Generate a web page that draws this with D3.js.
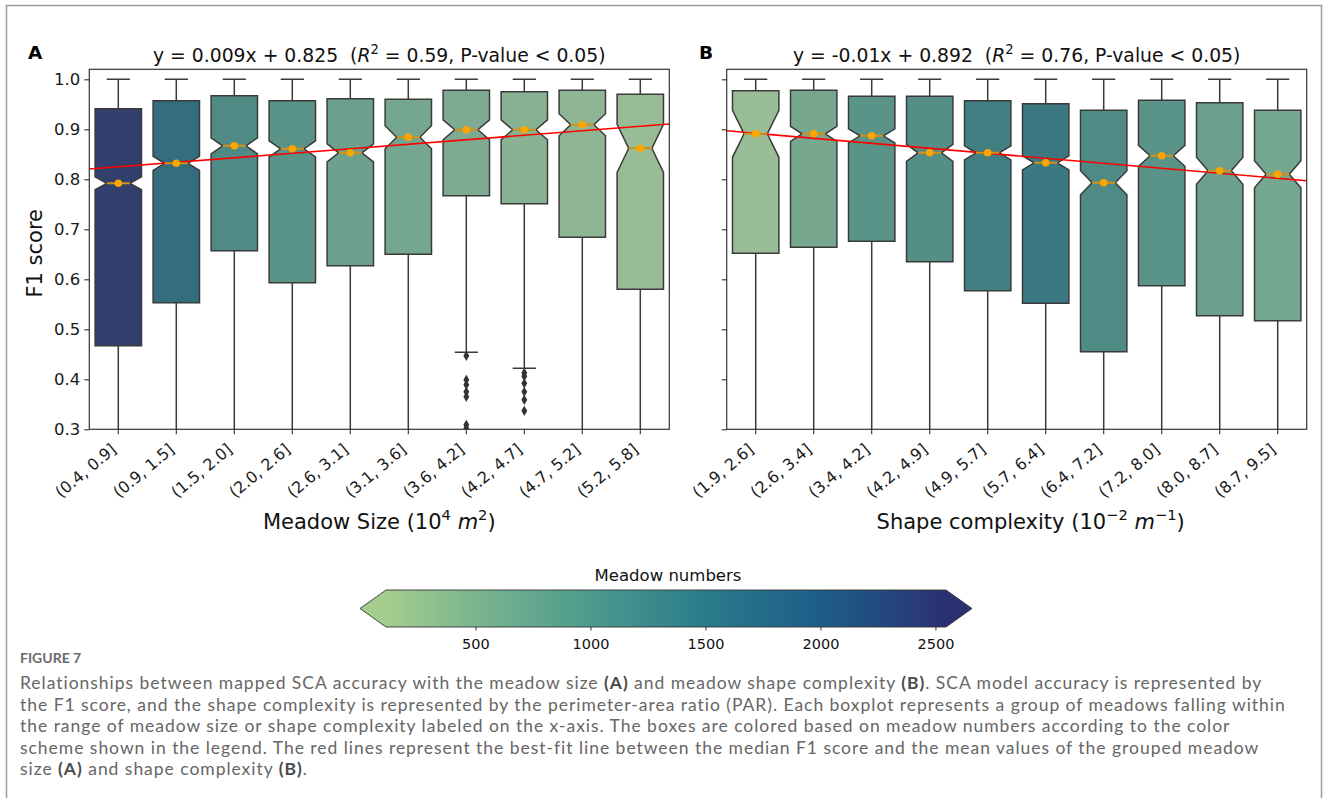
<!DOCTYPE html>
<html>
<head>
<meta charset="utf-8">
<script src="https://cdn.jsdelivr.net/npm/d3@7"></script>
<style>
body { margin: 0; background: #fff; }
svg text { font-family: "DejaVu Sans", sans-serif; white-space: pre; }
.caption text { font-family: Lato, "Open Sans", sans-serif; }
</style>
</head>
<body>
<div id="chart"></div>
<script>
// ---- data ----
const sizeBins = ["(0.4, 0.9]", "(0.9, 1.5]", "(1.5, 2.0]", "(2.0, 2.6]", "(2.6, 3.1]",
    "(3.1, 3.6]", "(3.6, 4.2]", "(4.2, 4.7]", "(4.7, 5.2]", "(5.2, 5.8]"]
const shapeBins = ["(1.9, 2.6]", "(2.6, 3.4]", "(3.4, 4.2]", "(4.2, 4.9]", "(4.9, 5.7]",
    "(5.7, 6.4]", "(6.4, 7.2]", "(7.2, 8.0]", "(8.0, 8.7]", "(8.7, 9.5]"]

// panel A : meadow size
const q1A = [0.467, 0.553, 0.657, 0.593, 0.627, 0.650, 0.767, 0.751, 0.684, 0.580]
const medA = [0.792, 0.832, 0.867, 0.861, 0.853, 0.884, 0.899, 0.899, 0.909, 0.862]
const q3A = [0.941, 0.957, 0.967, 0.957, 0.961, 0.960, 0.978, 0.975, 0.978, 0.970]
const notchA = [0.013, 0.014, 0.016, 0.016, 0.018, 0.023, 0.020, 0.020, 0.022, 0.048]
const whiskLoA = [0.2, 0.2, 0.2, 0.2, 0.2, 0.2, 0.454, 0.422, 0.2, 0.2]
const whiskHiA = [1.0, 1.0, 1.0, 1.0, 1.0, 1.0, 1.0, 1.0, 1.0, 1.0]
const countA = [2420, 1620, 1100, 960, 720, 640, 560, 430, 370, 280]
const fliersA = [[], [], [], [], [], [],
    [0.447, 0.399, 0.389, 0.375, 0.365, 0.309, 0.302],
    [0.413, 0.406, 0.392, 0.375, 0.359, 0.337], [], []]

// panel B : shape complexity
const q1B = [0.652, 0.664, 0.676, 0.635, 0.577, 0.552, 0.455, 0.587, 0.527, 0.517]
const medB = [0.891, 0.891, 0.887, 0.853, 0.853, 0.833, 0.793, 0.847, 0.817, 0.810]
const q3B = [0.977, 0.978, 0.966, 0.966, 0.957, 0.951, 0.938, 0.958, 0.953, 0.938]
const notchB = [0.047, 0.015, 0.014, 0.017, 0.014, 0.014, 0.024, 0.021, 0.027, 0.027]
const whiskLoB = [0.2, 0.2, 0.2, 0.2, 0.2, 0.2, 0.2, 0.2, 0.2, 0.2]
const whiskHiB = [1.0, 1.0, 1.0, 1.0, 1.0, 1.0, 1.0, 1.0, 1.0, 1.0]
const countB = [270, 620, 960, 1040, 1300, 1400, 1100, 960, 760, 640]
const fliersB = [[], [], [], [], [], [], [], [], [], []]

// best fit lines (x = group index)
const fitSlope = [0.009, -0.01]
const fitIntercept = [0.825, 0.892]
const fitR2 = ["0.59", "0.76"]

const yTicks = [0.3, 0.4, 0.5, 0.6, 0.7, 0.8, 0.9, 1.0]
const cbarTicks = [500, 1000, 1500, 2000, 2500]
const cbarMin = 111, cbarMax = 2546

// crest-like colormap
const crestPos = [0, 0.16, 0.37, 0.57, 0.78, 0.9, 1]
const crestCols = ["#a5cd90", "#7ab58f", "#4c9a8e", "#2a7b8b", "#1e5c87", "#24467d", "#2c3071"]

// ---- layout ----
const W = 1328, H = 798
const plotTop = 69.3, plotBottom = 429.3
const yMin = 0.3, yMax = 1.02

const crest = d3.scaleLinear().domain(crestPos).range(crestCols).interpolate(d3.interpolateRgb)
const cmap = v => crest(Math.max(0, Math.min(1, (v - cbarMin) / (cbarMax - cbarMin))))
const desat = (c, prop) => { const h = d3.hsl(c); h.s *= prop; return h.formatHex() }

const svg = d3.select('#chart').append('svg')
    .attr('width', W)
    .attr('height', H)

svg.append('rect').attr('width', W).attr('height', H).attr('fill', '#fff')
svg.append('rect')
    .attr('x', 6.5).attr('y', 5.5)
    .attr('width', 1315).attr('height', 900)
    .attr('fill', 'none')
    .attr('stroke', '#9a9a9a')
    .attr('stroke-width', 1.5)

// text with italic / superscript parts
richText = (sel, parts, fs) => {
    let up = false
    parts.forEach(p => {
        const t = sel.append('tspan').text(p.t)
        if (p.italic) t.attr('font-style', 'italic')
        if (p.bold) t.attr('font-weight', 'bold')
        if (p.sup) {
            t.attr('font-size', fs * 0.7)
            if (!up) t.attr('dy', -fs * 0.42)
            up = true
        } else if (up) {
            t.attr('dy', fs * 0.42)
            up = false
        }
    })
}

const yScale = d3.scaleLinear().domain([yMin, yMax]).range([plotBottom, plotTop])

drawPanel = (p, k) => {
    const x = d3.scaleBand().domain(p.bins).range([p.left, p.right])
    const xi = d3.scaleLinear().domain([-0.5, p.bins.length - 0.5]).range([p.left, p.right])
    const bw = x.bandwidth(), half = bw * 0.4, nHalf = bw * 0.2
    const y = yScale

    const stats = p.bins.map((b, i) => ({
        bin: b, cx: x(b) + bw / 2,
        q1: p.q1[i], med: p.med[i], q3: p.q3[i], n: p.notch[i],
        lo: p.lo[i], hi: p.hi[i], count: p.count[i], fliers: p.fliers[i]
    }))

    const clipId = 'clip' + k
    svg.append('clipPath').attr('id', clipId)
        .append('rect')
        .attr('x', p.left).attr('y', plotTop)
        .attr('width', p.right - p.left).attr('height', plotBottom - plotTop)

    const g = svg.append('g').attr('clip-path', `url(#${clipId})`)

    // whiskers + caps
    const wk = g.selectAll('.wk').data(stats).enter().append('g')
    wk.append('line')
        .attr('x1', d => d.cx).attr('x2', d => d.cx)
        .attr('y1', d => y(d.q3)).attr('y2', d => y(d.hi))
    wk.append('line')
        .attr('x1', d => d.cx).attr('x2', d => d.cx)
        .attr('y1', d => y(d.q1)).attr('y2', d => y(d.lo))
    wk.append('line')
        .attr('x1', d => d.cx - nHalf).attr('x2', d => d.cx + nHalf)
        .attr('y1', d => y(d.hi)).attr('y2', d => y(d.hi))
    wk.append('line')
        .attr('x1', d => d.cx - nHalf).attr('x2', d => d.cx + nHalf)
        .attr('y1', d => y(d.lo)).attr('y2', d => y(d.lo))
    wk.selectAll('line').attr('stroke', '#3a3a3a').attr('stroke-width', 1.5)

    // notched boxes
    g.selectAll('.box').data(stats).enter().append('path')
        .attr('d', d => {
            const l = d.cx - half, r = d.cx + half
            const pts = [
                [l, y(d.q1)], [r, y(d.q1)], [r, y(d.med - d.n)], [d.cx + nHalf, y(d.med)],
                [r, y(d.med + d.n)], [r, y(d.q3)], [l, y(d.q3)], [l, y(d.med + d.n)],
                [d.cx - nHalf, y(d.med)], [l, y(d.med - d.n)]
            ]
            return d3.line()(pts) + 'Z'
        })
        .attr('fill', d => desat(cmap(d.count), 0.75))
        .attr('stroke', '#3a3a3a')
        .attr('stroke-width', 1.5)
        .attr('stroke-linejoin', 'miter')

    // fliers
    stats.forEach(d => {
        g.selectAll(null).data(d.fliers).enter().append('path')
            .attr('d', d3.symbol(d3.symbolDiamond, 30))
            .attr('transform', v => `translate(${d.cx},${y(v)})`)
            .attr('fill', '#333')
    })

    // fit line
    const xs = [-0.5, p.bins.length - 0.5]
    g.append('path')
        .attr('d', d3.line()(xs.map(v => [xi(v), y(p.slope * v + p.intercept)])))
        .attr('stroke', '#ff0000')
        .attr('stroke-width', 1.6)
        .attr('fill', 'none')

    // medians
    g.selectAll('.med').data(stats).enter().append('line')
        .attr('x1', d => d.cx - nHalf).attr('x2', d => d.cx + nHalf)
        .attr('y1', d => y(d.med)).attr('y2', d => y(d.med))
        .attr('stroke', '#d09218')
        .attr('stroke-width', 2)
    g.selectAll('.dot').data(stats).enter().append('circle')
        .attr('cx', d => d.cx).attr('cy', d => y(d.med))
        .attr('r', 3.8)
        .attr('fill', '#ffa500')

    // spines
    svg.append('rect')
        .attr('x', p.left).attr('y', plotTop)
        .attr('width', p.right - p.left).attr('height', plotBottom - plotTop)
        .attr('fill', 'none').attr('stroke', '#333').attr('stroke-width', 1.2)

    // y axis
    const ya = svg.append('g')
        .attr('transform', `translate(${p.left},0)`)
        .call(d3.axisLeft(y).tickValues(yTicks).tickSize(5).tickPadding(4)
            .tickFormat(p.yLabels ? d3.format('.1f') : () => ''))
    ya.select('.domain').remove()
    ya.selectAll('line').attr('stroke', '#333').attr('stroke-width', 1.1)
    ya.selectAll('text').attr('font-size', 16.5).attr('fill', '#1a1a1a')
        .attr('font-family', '"DejaVu Sans", sans-serif')

    // x axis
    const xa = svg.append('g')
        .attr('transform', `translate(0,${plotBottom})`)
        .call(d3.axisBottom(x).tickSize(5).tickFormat(''))
    xa.select('.domain').remove()
    xa.selectAll('line').attr('stroke', '#333').attr('stroke-width', 1.1)

    svg.append('g').selectAll('text').data(p.bins).enter().append('text')
        .attr('transform', d => `translate(${x(d) + bw / 2 - 1},${plotBottom + 22}) rotate(-40)`)
        .attr('text-anchor', 'end')
        .attr('font-size', 16)
        .attr('fill', '#1a1a1a')
        .text(d => d)

    const mid = (p.left + p.right) / 2

    // title
    const t = svg.append('text')
        .attr('x', mid).attr('y', 61.5)
        .attr('text-anchor', 'middle')
        .attr('font-size', 18.8)
        .attr('fill', '#111')
    richText(t, [
        { t: `y = ${p.eq}  (` }, { t: 'R', italic: true }, { t: '2', sup: true },
        { t: ` = ${p.r2}, P-value < 0.05)` }
    ], 18.8)

    // panel letter
    svg.append('text')
        .attr('x', p.letterX).attr('y', 58.5)
        .attr('font-size', 18.5)
        .attr('font-weight', 'bold')
        .attr('fill', '#000')
        .text(p.letter)

    // x label
    const xl = svg.append('text')
        .attr('x', mid + p.xLabelDx).attr('y', 529)
        .attr('text-anchor', 'middle')
        .attr('font-size', 21)
        .attr('fill', '#111')
    richText(xl, p.xLabel, 21)
}

drawPanel({
    bins: sizeBins, left: 89.3, right: 669.3,
    q1: q1A, med: medA, q3: q3A, notch: notchA, lo: whiskLoA, hi: whiskHiA,
    count: countA, fliers: fliersA,
    slope: fitSlope[0], intercept: fitIntercept[0],
    eq: '0.009x + 0.825', r2: fitR2[0], yLabels: true,
    letter: 'A', letterX: 28, xLabelDx: 0,
    xLabel: [{ t: 'Meadow Size (10' }, { t: '4', sup: true }, { t: ' ' }, { t: 'm', italic: true },
        { t: '2', sup: true }, { t: ')' }]
}, 0)

drawPanel({
    bins: shapeBins, left: 726.7, right: 1306.7,
    q1: q1B, med: medB, q3: q3B, notch: notchB, lo: whiskLoB, hi: whiskHiB,
    count: countB, fliers: fliersB,
    slope: fitSlope[1], intercept: fitIntercept[1],
    eq: '-0.01x + 0.892', r2: fitR2[1], yLabels: false,
    letter: 'B', letterX: 699, xLabelDx: 14,
    xLabel: [{ t: 'Shape complexity (10' }, { t: '\u22122', sup: true }, { t: ' ' }, { t: 'm', italic: true },
        { t: '\u22121', sup: true }, { t: ')' }]
}, 1)

// y label
svg.append('text')
    .attr('transform', `translate(42,${(plotTop + plotBottom) / 2 + 4}) rotate(-90)`)
    .attr('text-anchor', 'middle')
    .attr('font-size', 21)
    .attr('fill', '#111')
    .text('F1 score')

// ---- colorbar ----
const cb = { left: 386, right: 946, top: 590, bottom: 627, tip: 26 }
const cx = d3.scaleLinear().domain([cbarMin, cbarMax]).range([cb.left, cb.right])

const grad = svg.append('defs').append('linearGradient')
    .attr('id', 'crestGrad')
    .attr('x1', '0%').attr('x2', '100%')
grad.selectAll('stop').data(d3.range(0, 1.0001, 0.02)).enter().append('stop')
    .attr('offset', d => d * 100 + '%')
    .attr('stop-color', d => crest(d))

svg.append('rect')
    .attr('x', cb.left).attr('y', cb.top)
    .attr('width', cb.right - cb.left).attr('height', cb.bottom - cb.top)
    .attr('fill', 'url(#crestGrad)')

const cmid = (cb.top + cb.bottom) / 2
svg.append('path')
    .attr('d', `M${cb.left},${cb.top}L${cb.left - cb.tip},${cmid}L${cb.left},${cb.bottom}Z`)
    .attr('fill', crest(0))
svg.append('path')
    .attr('d', `M${cb.right},${cb.top}L${cb.right + cb.tip},${cmid}L${cb.right},${cb.bottom}Z`)
    .attr('fill', crest(1))
svg.append('path')
    .attr('d', `M${cb.left},${cb.top}L${cb.left - cb.tip},${cmid}L${cb.left},${cb.bottom}` +
        `L${cb.right},${cb.bottom}L${cb.right + cb.tip},${cmid}L${cb.right},${cb.top}Z`)
    .attr('fill', 'none')
    .attr('stroke', '#333')
    .attr('stroke-width', 0.9)

const cba = svg.append('g')
    .attr('transform', `translate(0,${cb.bottom})`)
    .call(d3.axisBottom(cx).tickValues(cbarTicks).tickSize(3.5).tickPadding(8).tickFormat(d3.format('d')))
cba.select('.domain').remove()
cba.selectAll('line').attr('stroke', '#333')
cba.selectAll('text').attr('font-size', 14.5).attr('fill', '#111')
    .attr('font-family', '"DejaVu Sans", sans-serif')

svg.append('text')
    .attr('x', (cb.left + cb.right) / 2 + 2).attr('y', 581)
    .attr('text-anchor', 'middle')
    .attr('font-size', 16.5)
    .attr('fill', '#111')
    .text('Meadow numbers')

// ---- caption ----
const captionLines = [
    [{ t: 'Relationships between mapped SCA accuracy with the meadow size ' }, { t: '(A)', bold: true },
        { t: ' and meadow shape complexity ' }, { t: '(B)', bold: true },
        { t: '. SCA model accuracy is represented by' }],
    [{ t: 'the F1 score, and the shape complexity is represented by the perimeter-area ratio (PAR). Each boxplot represents a group of meadows falling within' }],
    [{ t: 'the range of meadow size or shape complexity labeled on the x-axis. The boxes are colored based on meadow numbers according to the color' }],
    [{ t: 'scheme shown in the legend. The red lines represent the best-fit line between the median F1 score and the mean values of the grouped meadow' }],
    [{ t: 'size ' }, { t: '(A)', bold: true }, { t: ' and shape complexity ' }, { t: '(B)', bold: true }, { t: '.' }]
]

const cap = svg.append('g').attr('class', 'caption')
cap.append('text')
    .attr('x', 20).attr('y', 663)
    .attr('font-size', 14)
    .attr('font-weight', 700)
    .attr('fill', '#6a6a6a')
    .text('FIGURE 7')

const capFs = 17.5
const capTexts = captionLines.map((line, i) => {
    const t = cap.append('text')
        .attr('x', 20).attr('y', 689 + i * 21.5)
        .attr('font-size', capFs)
        .attr('fill', '#666')
    line.forEach(p => {
        const s = t.append('tspan').text(p.t)
        if (p.bold) s.attr('font-weight', 'bold').attr('fill', '#4a4a4a')
    })
    return t
})

// the original caption face is wider than Lato: spread letters so the long line spans the same width
const capTarget = 1266
const longLine = capTexts[1].node()
const spacing = (capTarget - longLine.getComputedTextLength()) / longLine.getNumberOfChars()
capTexts.forEach(t => t.attr('letter-spacing', spacing))
</script>
</body>
</html>
